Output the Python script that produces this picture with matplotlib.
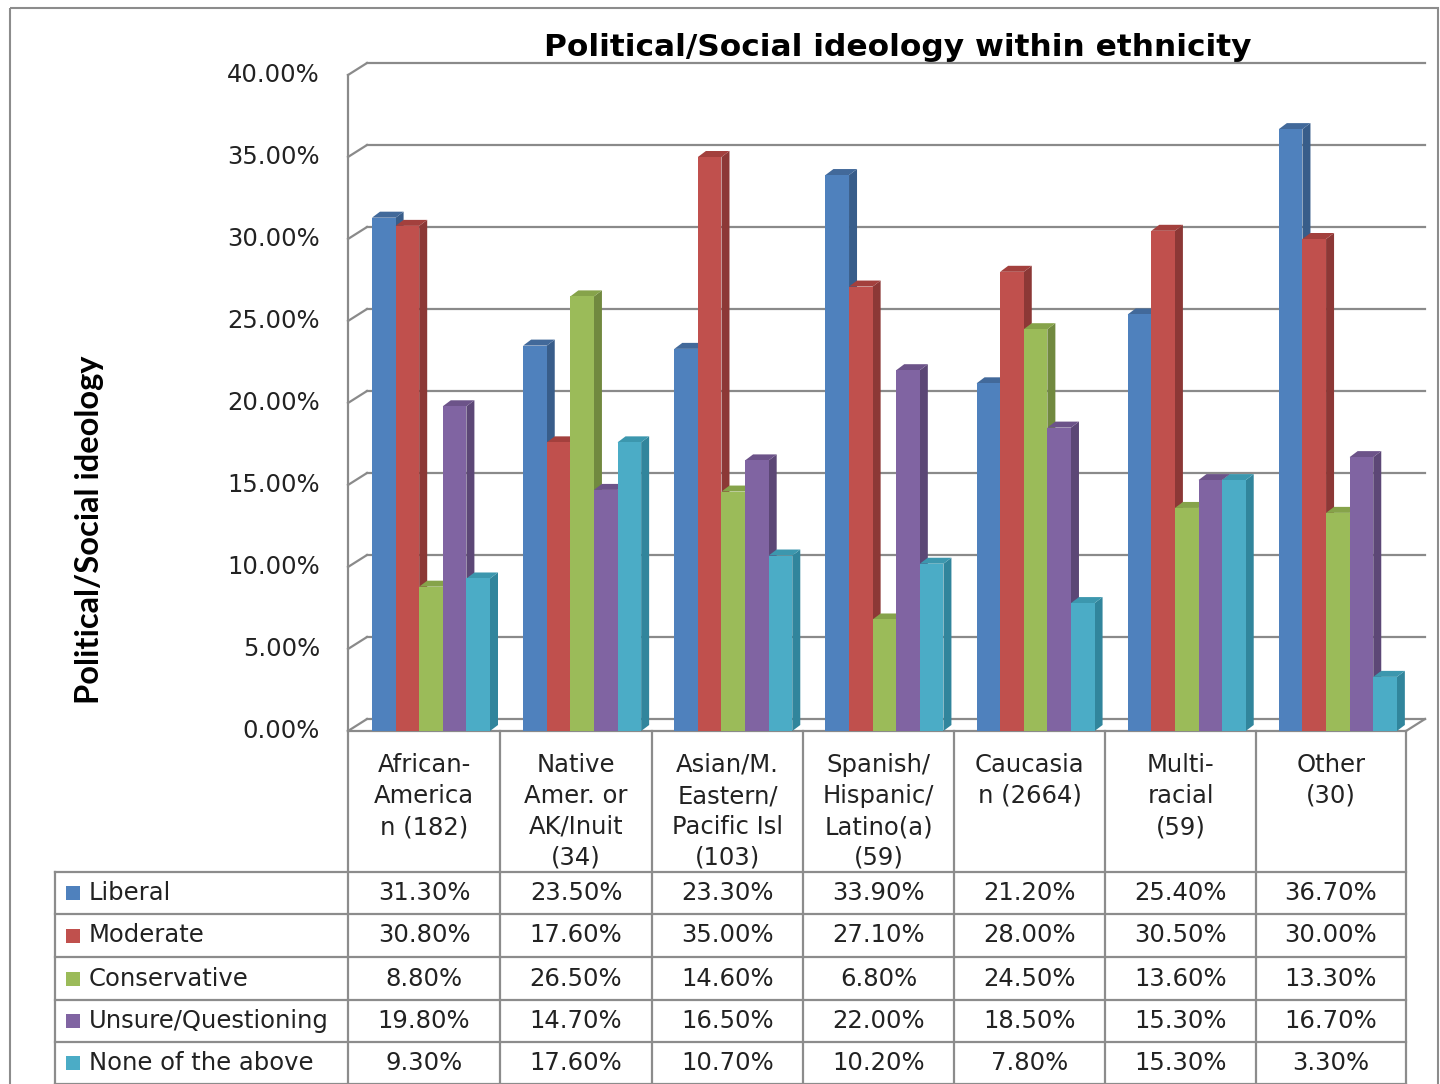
import matplotlib
matplotlib.use("Agg")
import matplotlib.pyplot as plt
from matplotlib.patches import Polygon, Rectangle
import numpy as np

categories = [
    ["African-", "America", "n (182)"],
    ["Native", "Amer. or", "AK/Inuit", "(34)"],
    ["Asian/M.", "Eastern/", "Pacific Isl", "(103)"],
    ["Spanish/", "Hispanic/", "Latino(a)", "(59)"],
    ["Caucasia", "n (2664)"],
    ["Multi-", "racial", "(59)"],
    ["Other", "(30)"],
]
series = ["Liberal", "Moderate", "Conservative", "Unsure/Questioning", "None of the above"]
liberal = [31.3, 23.5, 23.3, 33.9, 21.2, 25.4, 36.7]
moderate = [30.8, 17.6, 35.0, 27.1, 28.0, 30.5, 30.0]
conservative = [8.8, 26.5, 14.6, 6.8, 24.5, 13.6, 13.3]
unsure = [19.8, 14.7, 16.5, 22.0, 18.5, 15.3, 16.7]
none_above = [9.3, 17.6, 10.7, 10.2, 7.8, 15.3, 3.3]
values = [liberal, moderate, conservative, unsure, none_above]
yticks = [0, 5, 10, 15, 20, 25, 30, 35, 40]

front = ["#4F81BD", "#C0504D", "#9BBB59", "#8064A2", "#4BACC6"]
side = ["#385D8A", "#8C3836", "#71893F", "#5C4776", "#31859C"]
top = ["#42699A", "#A3403D", "#86A34A", "#6C5389", "#3C97AE"]

W, H = 1440, 1084
fig = plt.figure(figsize=(W / 100, H / 100), dpi=100)
fs = 17.5
tc = "#222222"

# overlay in pixel coordinates for frame, table, title
ov = fig.add_axes([0, 0, 1, 1])
ov.set_xlim(0, W)
ov.set_ylim(H, 0)
ov.axis("off")

# chart axes: front plane
x0, x1, yb, yt = 348, 1406, 731, 75
ax = fig.add_axes([x0 / W, 1 - yb / H, (x1 - x0) / W, (yb - yt) / H])
ax.set_xlim(-0.5, 6.5)
ax.set_ylim(0, 40)
ax.axis("off")
ax.patch.set_alpha(0)

pxx = (x1 - x0) / 7.0
pxy = (yb - yt) / 40.0
wdx, wdy = 19 / pxx, 12 / pxy   # wall depth
bdx, bdy = 8 / pxx, 6 / pxy     # bar depth
grid_c = "#8a8a8a"

# back wall gridlines and left wall ticks
for t in yticks:
    ax.plot([-0.5 + wdx, 6.5 + wdx], [t + wdy, t + wdy], color=grid_c, lw=1.6,
            clip_on=False, zorder=1)
    ax.plot([-0.5, -0.5 + wdx], [t, t + wdy], color=grid_c, lw=1.6, clip_on=False, zorder=1)
    ax.text(-0.5 - 28 / pxx, t, f"{t:.2f}%", ha="right", va="center", fontsize=fs, color=tc)
ax.plot([-0.5, -0.5], [0, 40], color=grid_c, lw=1.6, clip_on=False, zorder=1)
# floor
ax.plot([-0.5, 6.5], [0, 0], color=grid_c, lw=1.6, clip_on=False, zorder=1)
ax.plot([6.5, 6.5 + wdx], [0, wdy], color=grid_c, lw=1.6, clip_on=False, zorder=1)

bw = 23.6 / pxx
start = -0.5 + 24 / pxx
z = 2
for i in range(7):
    for k in range(5):
        v = values[k][i]
        left = i + start + k * bw
        ax.add_patch(Polygon([[left + bw, 0], [left + bw + bdx, bdy], [left + bw + bdx, v + bdy],
                              [left + bw, v]], closed=True, facecolor=side[k], edgecolor="none",
                             zorder=z, clip_on=False))
        ax.add_patch(Polygon([[left, v], [left + bdx, v + bdy], [left + bw + bdx, v + bdy],
                              [left + bw, v]], closed=True, facecolor=top[k], edgecolor="none",
                             zorder=z, clip_on=False))
        ax.bar(left + bw / 2, v, width=bw, color=front[k], zorder=z + 1, clip_on=False,
               linewidth=0)
        z += 2

# title and y label
ov.text(898, 47, "Political/Social ideology within ethnicity", ha="center", va="center",
        fontsize=22.5, fontweight="bold", family="DejaVu Sans")
ov.text(90, 530, "Political/Social ideology", ha="center", va="center", rotation=90,
        fontsize=23.5, fontweight="bold", family="Lato")

# outer frame
ov.add_patch(Rectangle((10, 8), 1428, 1090, fill=False, edgecolor="#8c8c8c", lw=1.5))

# data table
cols = [348, 500, 652, 803, 954, 1105, 1256, 1406]
rows = [872, 914, 957, 1000, 1042, 1084]
lc = "#8c8c8c"
for c in cols:
    ov.plot([c, c], [yb, H], color=lc, lw=1.6)
ov.plot([55, 55], [rows[0], H], color=lc, lw=1.6)
for r in rows:
    ov.plot([55, cols[-1]], [r, r], color=lc, lw=1.6)

for i, lines in enumerate(categories):
    cx = (cols[i] + cols[i + 1]) / 2
    for j, line in enumerate(lines):
        ov.text(cx, 765 + 31 * j, line, ha="center", va="center", fontsize=fs, color=tc)

for k, name in enumerate(series):
    cy = (rows[k] + rows[k + 1]) / 2
    ov.add_patch(Rectangle((66, cy - 7), 14, 14, facecolor=front[k], edgecolor="none"))
    ov.text(89, cy, name, ha="left", va="center", fontsize=fs, color=tc)
    for i in range(7):
        cx = (cols[i] + cols[i + 1]) / 2
        ov.text(cx, cy, f"{values[k][i]:.2f}%", ha="center", va="center", fontsize=fs, color=tc)

fig.savefig("out.png", dpi=100)
